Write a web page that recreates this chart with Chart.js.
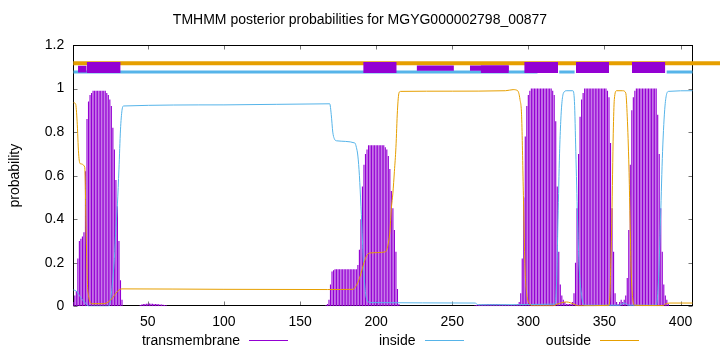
<!DOCTYPE html>
<html>
<head>
<meta charset="utf-8">
<script src="https://cdn.jsdelivr.net/npm/chart.js@4"></script>
<style>
  html, body { margin: 0; padding: 0; background: #fff; }
  #wrap { position: relative; width: 720px; height: 352px; }
  #legend { position: absolute; left: 120px; top: 332px; display: flex;
            font: 14px "Liberation Sans", Arial, sans-serif; color: #000; }
  #legend .item { width: 175.5px; display: flex; align-items: center; height: 16px; }
  #legend .name { width: 120px; text-align: right; }
  #legend .swatch { width: 39px; height: 1px; margin-left: 9px; }
</style>
</head>
<body>
<div id="wrap"><canvas id="chart"></canvas><div id="legend"></div></div>
<script>
/* TMHMM posterior probability plot */
(() => {
  "use strict";
  const $ = (s) => document.querySelector(s);

  const titleText = "TMHMM posterior probabilities for MGYG000002798_00877";
  const seriesNames = ["transmembrane", "inside", "outside"];
  const seriesColors = ["#9400d3", "#56b4e9", "#e69f00"];
  const xTicks = [50, 100, 150, 200, 250, 300, 350, 400];
  const yTicks = [0, 0.2, 0.4, 0.6, 0.8, 1, 1.2];
  const seqLength = 408;

  // transmembrane probability, runs of consecutive residues (rest is 0)
  const tmStart = [1, 45, 167, 265, 293];
  const tmRuns = [
    [0.02, 0.05, 0.07, 0.22, 0.30, 0.31, 0.32, 0.34, 0.62, 0.86, 0.94, 0.97, 0.98, 0.99, 0.99, 0.99,
     0.99, 0.99, 0.99, 0.99, 0.99, 0.99, 0.98, 0.97, 0.95, 0.92, 0.82, 0.72, 0.58, 0.46, 0.30, 0.12, 0.03],
    [0.006, 0.008, 0.01, 0.01, 0.012, 0.012, 0.013, 0.012, 0.012, 0.011, 0.01, 0.01, 0.009, 0.008,
     0.008, 0.007, 0.006, 0.005],
    [0.005, 0.01, 0.03, 0.10, 0.16, 0.165, 0.17, 0.17, 0.17, 0.17, 0.17, 0.17, 0.17, 0.17, 0.17, 0.17,
     0.17, 0.17, 0.17, 0.17, 0.17, 0.19, 0.26, 0.40, 0.55, 0.65, 0.70, 0.72, 0.74, 0.74, 0.74, 0.74,
     0.74, 0.74, 0.74, 0.74, 0.74, 0.74, 0.74, 0.73, 0.72, 0.69, 0.63, 0.53, 0.45, 0.35, 0.25, 0.08, 0.01],
    [0.005, 0.006, 0.007, 0.008, 0.008, 0.009, 0.009, 0.009, 0.01, 0.01, 0.01, 0.01, 0.01, 0.01,
     0.01, 0.01, 0.009, 0.009, 0.008, 0.008, 0.008, 0.007, 0.007, 0.006, 0.006, 0.006, 0.007, 0.008],
    [0.01, 0.02, 0.06, 0.22, 0.50, 0.78, 0.92, 0.97, 0.99,
     1, 1, 1, 1, 1, 1, 1, 1, 1, 1, 1, 1, 1, 1,
     0.99, 0.97, 0.85, 0.55, 0.25, 0.10, 0.05, 0.03, 0.02, 0.01, 0.01, 0.01, 0.01, 0.02,
     0.06, 0.20, 0.45, 0.70, 0.87, 0.95, 0.98,
     1, 1, 1, 1, 1, 1, 1, 1, 1, 1, 1, 1, 1, 1, 1,
     0.99, 0.96, 0.75, 0.45, 0.25, 0.06, 0.02, 0.01, 0.02, 0.03, 0.02, 0.03, 0.05, 0.13,
     0.35, 0.65, 0.90, 0.96, 0.99,
     1, 1, 1, 1, 1, 1, 1, 1, 1, 1, 1, 1, 1, 1,
     0.88, 0.70, 0.45, 0.25, 0.10, 0.05, 0.03, 0.01],
  ];

  const insideX = [1, 3, 5, 7, 9, 11, 24, 25.5, 27, 28, 29, 30, 31, 32, 33, 34, 100, 169.5, 170.5, 171.5,
    172.5, 174, 186, 187, 188, 189, 190, 191, 192, 193, 194, 196, 265, 267, 317.5, 318.5, 319.5, 320.5,
    321.3, 322, 323.1, 325.3, 329.2, 330.3, 331.2, 332.3, 333.4, 335.1, 337.3, 360, 363, 366, 384,
    385.4, 386.9, 388.2, 389.8, 392, 408];
  const insideY = [0.075, 0.07, 0.05, 0.03, 0.015, 0, 0, 0.03, 0.13, 0.22, 0.36, 0.47, 0.63, 0.81, 0.90,
    0.92, 0.925, 0.93, 0.88, 0.80, 0.77, 0.76, 0.75, 0.73, 0.69, 0.60, 0.46, 0.30, 0.15, 0.06, 0.03, 0.017,
    0.015, 0.007, 0.01, 0.1, 0.4, 0.7, 0.85, 0.93, 0.98, 0.99, 0.99, 0.94, 0.71, 0.41, 0.18, 0.045,
    0.005, 0.005, 0.015, 0.005, 0.005, 0.1, 0.41, 0.71, 0.92, 0.987, 0.99];

  const outsideX = [1, 2.5, 3.5, 4.5, 5.5, 8.5, 9.5, 10.3, 11, 12, 13, 21, 24, 27, 29, 31, 33, 100, 168,
    185, 186, 188, 190, 192, 194, 196, 206, 207, 208, 209, 210, 211, 212, 213, 214, 215, 216, 250, 285,
    290, 293, 294.5, 295.6, 296.7, 297.8, 298.9, 301, 303, 316, 319, 325, 330, 333, 353, 353.6, 354.2,
    354.9, 355.8, 356.5, 358, 362, 364, 365, 366.1, 366.8, 367.5, 368.5, 370, 388.5, 390, 393, 408];
  const outsideY = [0.935, 0.93, 0.85, 0.70, 0.655, 0.64, 0.32, 0.10, 0.05, 0.02, 0.012, 0.012, 0.02,
    0.04, 0.06, 0.075, 0.08, 0.078, 0.077, 0.078, 0.085, 0.11, 0.15, 0.20, 0.235, 0.245, 0.25, 0.26, 0.29,
    0.34, 0.45, 0.52, 0.62, 0.73, 0.90, 0.98, 0.987, 0.988, 0.99, 0.995, 0.99, 0.95, 0.87, 0.53, 0.18,
    0.06, 0.01, 0.002, 0.002, 0.01, 0.02, 0.01, 0.002, 0.005, 0.05, 0.2, 0.41, 0.795, 0.95, 0.99, 0.99,
    0.98, 0.87, 0.64, 0.41, 0.18, 0.04, 0.005, 0.003, 0.01, 0.015, 0.015];

  // predicted topology strip above the curves
  const stripOutX = [1, 430];
  const stripOutY = 1.116;
  const stripInStart = [1, 320.3, 390.9];
  const stripInEnd = [306, 330.4, 408];
  const stripInY = 1.076;
  const boxStart = [4.1, 9.8, 191.5, 226.6, 261.6, 268.7, 297.3, 331.3, 368.1];
  const boxEnd = [9.8, 32.1, 213.5, 251.1, 287.2, 287.2, 319.5, 353, 390];
  const boxLow = [1.074, 1.071, 1.071, 1.082, 1.082, 1.071, 1.071, 1.071, 1.071];
  const boxHigh = [1.105, 1.122, 1.122, 1.106, 1.106, 1.106, 1.122, 1.122, 1.122];

  const [PURPLE, BLUE, ORANGE] = seriesColors;
  const zip = (xs, ys) => xs.map((x, i) => ({ x, y: ys[i] }));
  const tmPoints = tmStart.flatMap((s, k) => tmRuns[k].map((y, i) => ({ x: s + i, y })));

  const datasets = [
    { type: "bar", label: seriesNames[0], data: tmPoints, backgroundColor: PURPLE, borderWidth: 0,
      barPercentage: 0.75, categoryPercentage: 1, order: 5 },
    { label: seriesNames[1], data: zip(insideX, insideY), borderColor: BLUE, borderWidth: 1,
      cubicInterpolationMode: "monotone", order: 4 },
    { label: seriesNames[2], data: zip(outsideX, outsideY), borderColor: ORANGE, borderWidth: 1,
      cubicInterpolationMode: "monotone", order: 3 },
    { data: stripOutX.map((x) => ({ x, y: stripOutY })), borderColor: ORANGE, borderWidth: 4,
      borderCapStyle: "butt", clip: false, order: 2 },
    { data: stripInStart.flatMap((s, i) => [{ x: s, y: stripInY }, { x: stripInEnd[i], y: stripInY },
        { x: stripInEnd[i], y: null }]), borderColor: BLUE, borderWidth: 3, order: 2 },
  ];
  boxStart.forEach((s, i) => {
    const e = boxEnd[i];
    datasets.push({ data: [{ x: s, y: boxLow[i] }, { x: e, y: boxLow[i] }], borderWidth: 0, order: 1 });
    datasets.push({ data: [{ x: s, y: boxHigh[i] }, { x: e, y: boxHigh[i] }], borderWidth: 0,
      fill: "-1", backgroundColor: PURPLE, order: 1 });
  });

  // gnuplot style border with inward ticks
  const frame = {
    id: "frame",
    beforeDatasetsDraw(chart) {
      const { ctx, chartArea: a, scales } = chart;
      const L = Math.round(a.left) + 0.5, R = Math.round(a.right) - 0.5;
      const T = Math.round(a.top) + 0.5, B = Math.round(a.bottom) - 0.5;
      ctx.save();
      ctx.lineWidth = 1;
      ctx.strokeStyle = "#777";
      ctx.beginPath();
      xTicks.forEach((v) => {
        const p = Math.round(scales.x.getPixelForValue(v)) + 0.5;
        ctx.moveTo(p, B); ctx.lineTo(p, B - 4); ctx.moveTo(p, T); ctx.lineTo(p, T + 4);
      });
      yTicks.forEach((v) => {
        const p = Math.round(scales.y.getPixelForValue(v)) + 0.5;
        ctx.moveTo(L, p); ctx.lineTo(L + 4, p); ctx.moveTo(R, p); ctx.lineTo(R - 4, p);
      });
      ctx.stroke();
      ctx.strokeStyle = "#000";
      ctx.strokeRect(L, T, R - L, B - T);
      ctx.restore();
    },
  };

  Chart.defaults.font.family = '"Liberation Sans", Arial, sans-serif';
  Chart.defaults.font.size = 14;
  Chart.defaults.color = "#000";

  new Chart($("#chart"), {
    type: "line",
    data: { datasets },
    plugins: [frame],
    options: {
      responsive: true, maintainAspectRatio: false, animation: false, events: [],
      layout: { padding: { left: 0, right: 0, top: 0, bottom: 25.7 } },
      elements: { point: { radius: 0 }, line: { tension: 0 } },
      plugins: {
        legend: { display: false },
        tooltip: { enabled: false },
        title: { display: true, text: titleText, font: { size: 14, weight: "normal" },
                 padding: { top: 11.6, bottom: 16.6 } },
      },
      scales: {
        x: { type: "linear", min: 1, max: seqLength, offset: false,
             afterBuildTicks: (s) => { s.ticks = xTicks.map((value) => ({ value })); },
             afterFit: (s) => { s.height = 20; },
             grid: { display: false, drawTicks: false }, border: { display: false },
             ticks: { padding: 7, maxRotation: 0 } },
        y: { min: 0, max: 1.2,
             afterBuildTicks: (s) => { s.ticks = yTicks.map((value) => ({ value })); },
             afterFit: (s) => { s.width = 73.3; },
             grid: { display: false, drawTicks: false }, border: { display: false },
             ticks: { padding: 9, callback: (v) => String(+v.toFixed(1)) },
             title: { display: true, text: "probability", padding: { top: 7, bottom: 0 } } },
        // empty right axis: keeps the plot narrow while the title centres on the page
        yRight: { position: "right", min: 0, max: 1.2,
             afterFit: (s) => { s.width = 27.3; },
             grid: { display: false, drawTicks: false }, border: { display: false },
             ticks: { display: false } },
      },
    },
  });

  $("#legend").innerHTML = seriesNames.map((n, i) =>
    `<div class="item"><span class="name">${n}</span><span class="swatch" style="background:${seriesColors[i]}"></span></div>`).join("");
})();
</script>
</body>
</html>
